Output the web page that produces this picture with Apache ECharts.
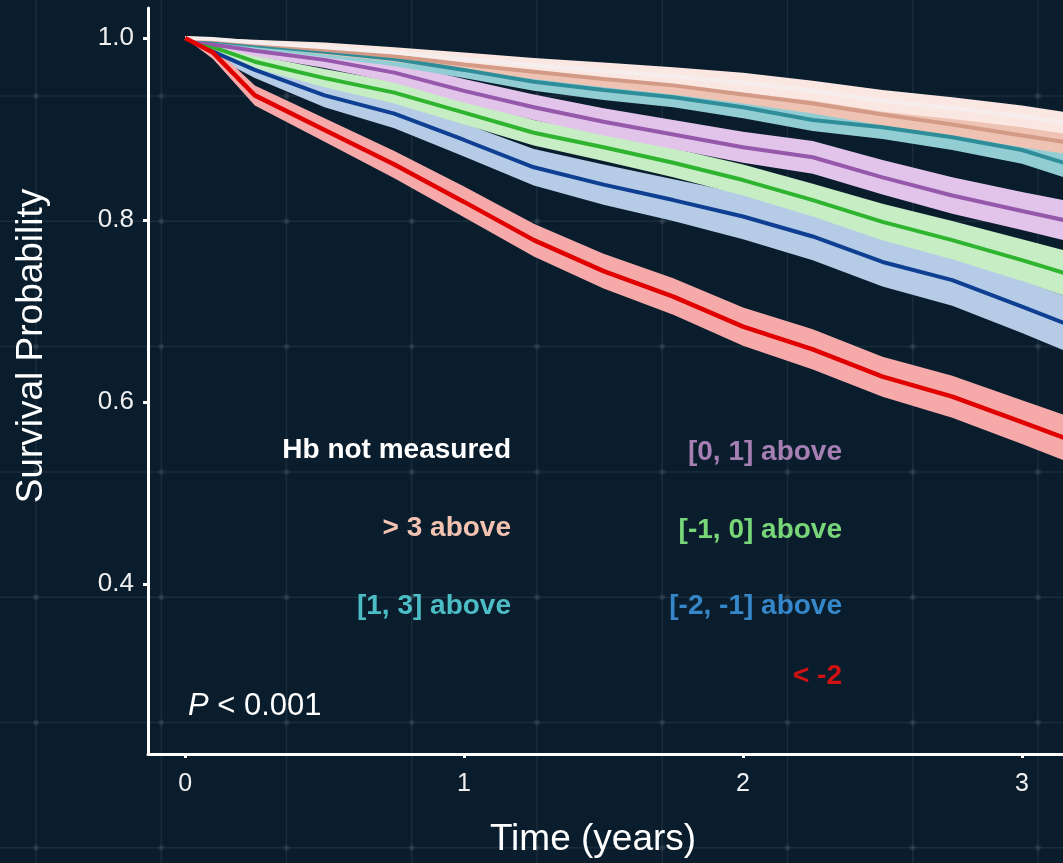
<!DOCTYPE html>
<html>
<head>
<meta charset="utf-8">
<script src="https://cdn.jsdelivr.net/npm/echarts@6/dist/echarts.min.js"></script>
<style>
  html, body { margin: 0; padding: 0; background: #0a1d2d; }
  #chart { width: 1063px; height: 863px; }
</style>
</head>
<body>
<div id="chart"></div>
<script>
// ---- data ----
const times = [0, 0.1, 0.25, 0.5, 0.75, 1, 1.25, 1.5, 1.75, 2, 2.25, 2.5, 2.75, 3, 3.15];

const groupNames = ['Hb not measured', '> 3 above', '[1, 3] above', '[0, 1] above', '[-1, 0] above', '[-2, -1] above', '< -2'];

const notMeasuredEst = [1, 0.999, 0.995, 0.990, 0.984, 0.977, 0.970, 0.964, 0.958, 0.951, 0.942, 0.931, 0.923, 0.914, 0.907];
const notMeasuredLo  = [1, 0.997, 0.992, 0.985, 0.978, 0.970, 0.962, 0.955, 0.948, 0.940, 0.931, 0.919, 0.911, 0.902, 0.895];
const notMeasuredHi  = [1, 1.000, 0.998, 0.995, 0.990, 0.984, 0.978, 0.973, 0.968, 0.962, 0.953, 0.943, 0.935, 0.926, 0.919];

const above3Est = [1, 0.998, 0.994, 0.987, 0.980, 0.971, 0.963, 0.955, 0.948, 0.938, 0.928, 0.916, 0.905, 0.893, 0.886];
const above3Lo  = [1, 0.996, 0.991, 0.982, 0.974, 0.964, 0.955, 0.946, 0.938, 0.928, 0.917, 0.904, 0.893, 0.880, 0.873];
const above3Hi  = [1, 1.000, 0.997, 0.992, 0.986, 0.978, 0.971, 0.964, 0.958, 0.948, 0.939, 0.928, 0.917, 0.906, 0.899];

const r13Est = [1, 0.997, 0.992, 0.985, 0.977, 0.965, 0.952, 0.943, 0.935, 0.924, 0.910, 0.902, 0.891, 0.877, 0.863];
const r13Lo  = [1, 0.995, 0.988, 0.979, 0.969, 0.956, 0.942, 0.932, 0.924, 0.912, 0.898, 0.889, 0.877, 0.862, 0.847];
const r13Hi  = [1, 0.999, 0.996, 0.991, 0.985, 0.974, 0.962, 0.954, 0.946, 0.936, 0.922, 0.915, 0.905, 0.892, 0.879];

const r01Est = [1, 0.993, 0.986, 0.976, 0.962, 0.942, 0.924, 0.908, 0.894, 0.880, 0.869, 0.847, 0.827, 0.810, 0.800];
const r01Lo  = [1, 0.990, 0.980, 0.967, 0.951, 0.929, 0.910, 0.893, 0.878, 0.863, 0.851, 0.828, 0.807, 0.789, 0.778];
const r01Hi  = [1, 0.996, 0.992, 0.985, 0.973, 0.955, 0.938, 0.923, 0.910, 0.897, 0.887, 0.866, 0.847, 0.831, 0.822];

const rm10Est = [1, 0.990, 0.974, 0.956, 0.940, 0.918, 0.896, 0.880, 0.863, 0.844, 0.822, 0.798, 0.778, 0.756, 0.742];
const rm10Lo  = [1, 0.986, 0.967, 0.946, 0.928, 0.905, 0.882, 0.865, 0.847, 0.827, 0.804, 0.778, 0.757, 0.733, 0.717];
const rm10Hi  = [1, 0.994, 0.981, 0.966, 0.952, 0.931, 0.910, 0.895, 0.879, 0.861, 0.840, 0.818, 0.799, 0.779, 0.767];

const rm21Est = [1, 0.985, 0.965, 0.937, 0.917, 0.888, 0.858, 0.839, 0.822, 0.804, 0.782, 0.754, 0.734, 0.705, 0.687];
const rm21Lo  = [1, 0.980, 0.956, 0.924, 0.901, 0.870, 0.838, 0.817, 0.799, 0.779, 0.756, 0.727, 0.706, 0.676, 0.657];
const rm21Hi  = [1, 0.990, 0.974, 0.950, 0.933, 0.906, 0.878, 0.861, 0.845, 0.829, 0.808, 0.781, 0.762, 0.734, 0.717];

const belowM2Est = [1, 0.984, 0.937, 0.899, 0.861, 0.820, 0.778, 0.744, 0.716, 0.683, 0.658, 0.628, 0.606, 0.578, 0.561];
const belowM2Lo  = [1, 0.977, 0.926, 0.886, 0.846, 0.803, 0.760, 0.725, 0.696, 0.662, 0.636, 0.606, 0.583, 0.554, 0.536];
const belowM2Hi  = [1, 0.991, 0.948, 0.912, 0.876, 0.837, 0.796, 0.763, 0.736, 0.704, 0.680, 0.650, 0.629, 0.602, 0.586];

const xTickValues = [0, 1, 2, 3];
const yTickValues = [0.4, 0.6, 0.8, 1.0];
const pValueText = '{i|P} < 0.001';

// ---- styling ----
const groups = [
  { name: groupNames[0], est: notMeasuredEst, lo: notMeasuredLo, hi: notMeasuredHi, line: '#f6eeec', band: '#fbe7e2', text: '#ffffff' },
  { name: groupNames[1], est: above3Est, lo: above3Lo, hi: above3Hi, line: '#d39a86', band: '#efc3b3', text: '#f3c3b2' },
  { name: groupNames[2], est: r13Est, lo: r13Lo, hi: r13Hi, line: '#2f8d99', band: '#93cdd4', text: '#4dbdc5' },
  { name: groupNames[3], est: r01Est, lo: r01Lo, hi: r01Hi, line: '#9658ab', band: '#e2c4ea', text: '#a67fb3' },
  { name: groupNames[4], est: rm10Est, lo: rm10Lo, hi: rm10Hi, line: '#2fb42f', band: '#c6edc4', text: '#78d678' },
  { name: groupNames[5], est: rm21Est, lo: rm21Lo, hi: rm21Hi, line: '#0e3f92', band: '#b6cce6', text: '#3587c9' },
  { name: groupNames[6], est: belowM2Est, lo: belowM2Lo, hi: belowM2Hi, line: '#e00000', band: '#f6a9a9', text: '#d01212' }
];

const bandOrder = [5, 4, 3, 2, 1, 0, 6];
const series = [];
bandOrder.forEach(function (gi, k) {
  const g = groups[gi];
  series.push({
    type: 'custom',
    name: g.name + ' CI',
    z: 2,
    clip: true,
    silent: true,
    data: times.map(function (t, i) { return [t, g.lo[i], g.hi[i]]; }),
    encode: { x: 0, y: [1, 2] },
    renderItem: function (params, api) {
      if (params.dataIndex !== 0) return;
      const pts = [];
      for (let i = 0; i < times.length; i++) pts.push(api.coord([times[i], g.hi[i]]));
      for (let i = times.length - 1; i >= 0; i--) pts.push(api.coord([times[i], g.lo[i]]));
      return { type: 'polygon', shape: { points: pts }, style: { fill: g.band }, z2: k };
    }
  });
});
bandOrder.forEach(function (gi) {
  const g = groups[gi];
  series.push({
    type: 'line',
    name: g.name,
    z: 3,
    showSymbol: false,
    symbol: 'none',
    clip: true,
    data: times.map(function (t, i) { return [t, g.est[i]]; }),
    lineStyle: { color: g.line, width: gi === 6 ? 4.5 : 4 }
  });
});

// decorative background grid
const bg = [];
const stepX = 125.25, stepY = 125.3, x0 = 36, y0 = 96;
for (let k = 0; k < 9; k++) {
  const x = x0 + k * stepX;
  bg.push({ type: 'line', z: -10, silent: true, shape: { x1: x, y1: 0, x2: x, y2: 863 }, style: { stroke: 'rgba(255,255,255,0.07)', lineWidth: 1.5 } });
}
for (let k = -1; k < 7; k++) {
  const y = y0 + k * stepY;
  bg.push({ type: 'line', z: -10, silent: true, shape: { x1: 0, y1: y, x2: 1063, y2: y }, style: { stroke: 'rgba(255,255,255,0.07)', lineWidth: 1.5 } });
}
for (let i = 0; i < 9; i++) {
  for (let j = 0; j < 7; j++) {
    bg.push({ type: 'circle', z: -9, silent: true, shape: { cx: x0 + i * stepX, cy: y0 + j * stepY, r: 3 }, style: { fill: 'rgba(255,255,255,0.08)' } });
  }
}

const font = '"Liberation Sans", Arial, Helvetica, sans-serif';
const legendPos = [
  [511, 450], [511, 528], [511, 606],
  [842, 452], [842, 530], [842, 606], [842, 676]
];
const texts = groups.map(function (g, i) {
  return {
    type: 'text', z: 10, silent: true,
    x: legendPos[i][0], y: legendPos[i][1],
    style: { text: g.name, fill: g.text, font: 'bold 28px ' + font, align: 'right', verticalAlign: 'middle' }
  };
});
texts.push({
  type: 'text', z: 10, silent: true, x: 188, y: 706,
  style: { text: pValueText, fill: '#ffffff', font: '31px ' + font, align: 'left', verticalAlign: 'middle',
    rich: { i: { fontStyle: 'italic', fontSize: 31, fontFamily: font, fill: '#ffffff' } } }
});
texts.push({
  type: 'text', z: 10, silent: true, x: 593, y: 840,
  style: { text: 'Time (years)', fill: '#ffffff', font: '37px ' + font, align: 'center', verticalAlign: 'middle' }
});
texts.push({
  type: 'text', z: 10, silent: true, x: 32, y: 346, rotation: Math.PI / 2,
  style: { text: 'Survival Probability', fill: '#ffffff', font: '37px ' + font, align: 'center', verticalAlign: 'middle' }
});

const chart = echarts.init(document.getElementById('chart'), null, { renderer: 'canvas' });
chart.setOption({
  backgroundColor: '#0a1d2d',
  animation: false,
  grid: { left: 148, right: 0, top: 8, bottom: 109, containLabel: false },
  xAxis: {
    type: 'value', min: -0.133, max: 3.147,
    axisLine: { show: true, onZero: false, lineStyle: { color: '#ffffff', width: 3 } },
    axisTick: { show: true, customValues: xTickValues, length: 4, lineStyle: { color: '#ffffff', width: 3 } },
    axisLabel: { show: true, customValues: xTickValues, color: '#f0f0f0', fontSize: 25, fontFamily: font, margin: 18,
      formatter: function (v) { return String(v); } },
    splitLine: { show: false }
  },
  yAxis: {
    type: 'value', min: 0.2135, max: 1.033,
    axisLine: { show: true, onZero: false, lineStyle: { color: '#ffffff', width: 3 } },
    axisTick: { show: true, customValues: yTickValues, length: 5, lineStyle: { color: '#ffffff', width: 3 } },
    axisLabel: { show: true, customValues: yTickValues, color: '#f0f0f0', fontSize: 26, fontFamily: font, margin: 14,
      formatter: function (v) { return Number(v).toFixed(1); } },
    splitLine: { show: false }
  },
  graphic: { elements: bg.concat(texts) },
  series: series
});
</script>
</body>
</html>
